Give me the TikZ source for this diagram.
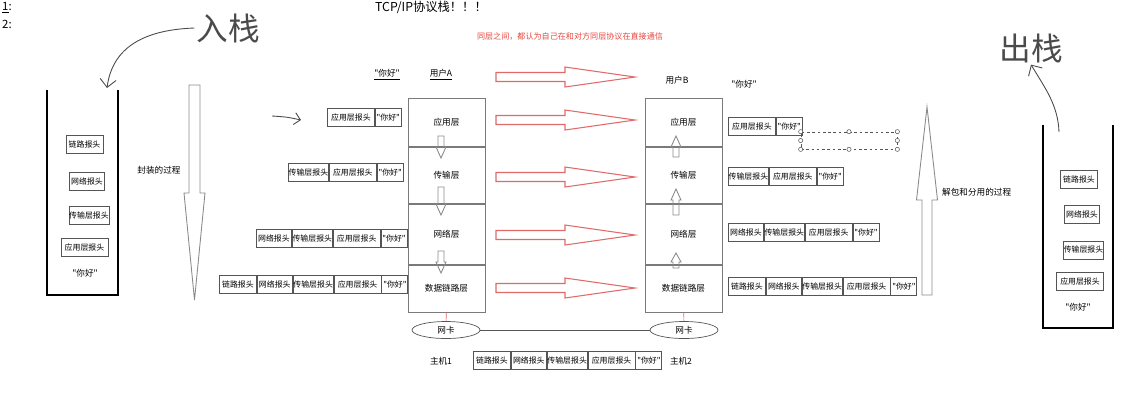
\documentclass[tikz,border=0pt]{standalone}
\usepackage{fontspec}
\setmainfont{Noto Sans CJK SC}[Ligatures=TeXOff]
\usetikzlibrary{arrows.meta,positioning,shapes.geometric}
\definecolor{peerred}{HTML}{E06A6A}
\definecolor{redtext}{HTML}{E5463F}
\definecolor{boxgray}{HTML}{555555}
\definecolor{stackgray}{HTML}{7A7A7A}
\definecolor{arrowgray}{HTML}{8A8A8A}
\definecolor{ink}{HTML}{4A4A4A}
\tikzset{
  hdr/.style={
    draw=boxgray,
    line width=0.5pt,
    minimum height=0.36cm,
    inner xsep=0pt,
    inner ysep=0.5pt,
    anchor=west,
    font=\fontsize{4.5}{5}\selectfont
  },
  lk/.style={hdr,minimum width=0.74cm},
  nw/.style={hdr,minimum width=0.70cm},
  tr/.style={hdr,minimum width=0.80cm},
  ap/.style={hdr,minimum width=0.94cm},
  ny/.style={hdr,minimum width=0.52cm},
  layer/.style={
    draw=stackgray,
    line width=0.5pt,
    minimum width=1.54cm,
    inner sep=0pt,
    font=\fontsize{4.9}{5}\selectfont
  },
  lbl/.style={inner sep=0.5pt,font=\fontsize{4.9}{5}\selectfont},
  nic/.style={
    ellipse,
    draw=boxgray,
    minimum width=1.36cm,
    minimum height=0.34cm,
    inner sep=0pt,
    font=\fontsize{4.9}{5}\selectfont
  },
  peer/.style={draw=peerred,line width=0.6pt},
  hollow/.style={draw=arrowgray,line width=0.5pt},
  wall/.style={draw=black,line width=1.3pt},
  hand/.style={draw=ink,line width=0.5pt},
  handtext/.style={text=ink,inner sep=1pt,font=\fontsize{18}{18}\selectfont}
}
% x, tail, head base, tip, shaft half width, head half width
\newcommand{\hollowv}[6]{%
  \draw[hollow] (#1-#5,#2) -- (#1+#5,#2) -- (#1+#5,#3) -- (#1+#6,#3) -- (#1,#4)
    -- (#1-#6,#3) -- (#1-#5,#3) -- cycle;}
% y, tail, head base, tip, shaft half width, head half width
\newcommand{\hollowh}[6]{%
  \draw[peer] (#2,#1-#5) -- (#3,#1-#5) -- (#3,#1-#6) -- (#4,#1) -- (#3,#1+#6)
    -- (#3,#1+#5) -- (#2,#1+#5) -- cycle;}

\begin{document}
\begin{tikzpicture}[x=0.02cm,y=-0.02cm]
\useasboundingbox (0,0) rectangle (1145,403);

% notes and titles
\node[inner sep=0.5pt,anchor=west,font=\fontsize{6.5}{7}\selectfont] (n1) at (1,8) {\underline{1}:};
\node[inner sep=0.5pt,anchor=west,font=\fontsize{6.5}{7}\selectfont] (n2) at (1,24) {2:};
\node[font=\fontsize{7}{8}\selectfont] (title) at (431,7) {TCP/IP协议栈！！！};
\node[inner sep=0.5pt,text=redtext,font=\fontsize{4.6}{5}\selectfont] (note) at (570,37) {同层之间，都认为自己在和对方同层协议在直接通信};

% host A
\node[layer,minimum height=0.96cm,anchor=north] (appA) at (446.5,98) {应用层};
\node[layer,minimum height=1.12cm,below=0pt of appA] (transA) {传输层};
\node[layer,minimum height=1.20cm,below=0pt of transA] (netA) {网络层};
\node[layer,minimum height=0.94cm,below=0pt of netA] (linkA) {数据链路层};
\node[lbl] (sayA) at (387,75) {\underline{"你好"}};
\node[lbl] (userA) at (441,75) {\underline{用户A}};

% host B
\node[layer,minimum height=0.96cm,anchor=north] (appB) at (683.5,98) {应用层};
\node[layer,minimum height=1.12cm,below=0pt of appB] (transB) {传输层};
\node[layer,minimum height=1.20cm,below=0pt of transB] (netB) {网络层};
\node[layer,minimum height=0.94cm,below=0pt of netB] (linkB) {数据链路层};
\node[lbl] (userB) at (677,80) {用户B};
\node[lbl] (sayB) at (744,84) {"你好"};

% down / up inside the stacks
\hollowv{441}{136}{147}{158}{3}{5}
\hollowv{441}{187}{204}{215}{3}{5}
\hollowv{441}{251}{262}{273}{3}{5}
\hollowv{676}{157}{147}{136}{3}{5}
\hollowv{676}{215}{200}{189}{3}{5}
\hollowv{676}{268}{262}{253}{3}{5}

% peer arrows
\foreach \y in {77,120,177,235,288}
  \hollowh{\y}{496}{565}{635}{4.5}{10};

% network cards
\node[nic] (nicA) at (446,330) {网卡};
\node[nic] (nicB) at (684,330) {网卡};
\draw[draw=boxgray] (nicA) -- (nicB);
\draw[draw=peerred] (linkA) -- (nicA);
\draw[draw=peerred] (linkB) -- (nicB);
\node[lbl] (host1) at (441,361) {主机1};
\node[lbl] (host2) at (681,361) {主机2};

% frame on the wire
\node[lk] (w1) at (473,360.5) {链路报头};
\node[nw,right=0pt of w1] (w2) {网络报头};
\node[tr,right=0pt of w2] (w3) {传输层报头};
\node[ap,right=0pt of w3] (w4) {应用层报头};
\node[ny,right=0pt of w4] (w5) {"你好"};

% sender side headers
\node[ap] (sa1) at (327,117.5) {应用层报头};
\node[ny,right=0pt of sa1] (sa2) {"你好"};
\node[tr] (sb1) at (288,172.5) {传输层报头};
\node[ap,right=0pt of sb1] (sb2) {应用层报头};
\node[ny,right=0pt of sb2] (sb3) {"你好"};
\node[nw] (sc1) at (256,238.5) {网络报头};
\node[tr,right=0pt of sc1] (sc2) {传输层报头};
\node[ap,right=0pt of sc2] (sc3) {应用层报头};
\node[ny,right=0pt of sc3] (sc4) {"你好"};
\node[lk] (sd1) at (219,284.5) {链路报头};
\node[nw,right=0pt of sd1] (sd2) {网络报头};
\node[tr,right=0pt of sd2] (sd3) {传输层报头};
\node[ap,right=0pt of sd3] (sd4) {应用层报头};
\node[ny,right=0pt of sd4] (sd5) {"你好"};

% receiver side headers
\node[ap] (ra1) at (728,126) {应用层报头};
\node[ny,right=0pt of ra1] (ra2) {"你好"};
\node[tr] (rb1) at (728,176.5) {传输层报头};
\node[ap,right=0pt of rb1] (rb2) {应用层报头};
\node[ny,right=0pt of rb2] (rb3) {"你好"};
\node[nw] (rc1) at (728,232.5) {网络报头};
\node[tr,right=0pt of rc1] (rc2) {传输层报头};
\node[ap,right=0pt of rc2] (rc3) {应用层报头};
\node[ny,right=0pt of rc3] (rc4) {"你好"};
\node[lk] (rd1) at (728,286.5) {链路报头};
\node[nw,right=0pt of rd1] (rd2) {网络报头};
\node[tr,right=0pt of rd2] (rd3) {传输层报头};
\node[ap,right=0pt of rd3] (rd4) {应用层报头};
\node[ny,right=0pt of rd4] (rd5) {"你好"};

% selection frame
\node[draw=boxgray,dash pattern=on 1.5pt off 1.5pt,line width=0.4pt,
  minimum width=1.92cm,minimum height=0.34cm,inner sep=0pt] (sel) at (849,140.5) {};
\foreach \a in {north west,north,north east,east,south east,south,south west,west}
  \draw[draw=boxgray,fill=white,line width=0.3pt] (sel.\a) circle (1.2pt);

% big process arrows
\hollowv{194.5}{85}{193}{300}{5.5}{10.5}
\hollowv{927}{295}{200}{107}{5}{10.5}
\node[lbl] (encap) at (159,170) {封装的过程};
\node[lbl,anchor=west] (decap) at (941,192) {解包和分用的过程};

% push stack
\draw[wall] (47,90) -- (47,295) -- (118,295) -- (118,90);
\node[lk,anchor=center] (pu1) at (84.5,144) {链路报头};
\node[nw,anchor=center] (pu2) at (87,181) {网络报头};
\node[tr,anchor=center] (pu3) at (89,215.5) {传输层报头};
\node[ap,anchor=center] (pu4) at (84.5,247.5) {应用层报头};
\node[lbl] (pu5) at (85,273) {"你好"};

% pop stack
\draw[wall] (1043,125) -- (1043,328) -- (1113,328) -- (1113,125);
\node[lk,anchor=center] (po1) at (1079,179) {链路报头};
\node[nw,anchor=center] (po2) at (1082,214.5) {网络报头};
\node[tr,anchor=center] (po3) at (1083.5,250) {传输层报头};
\node[ap,anchor=center] (po4) at (1080,281) {应用层报头};
\node[lbl] (po5) at (1078,307) {"你好"};

% handwriting
\node[handtext] (push) at (228,28) {入栈};
\coordinate (pushTip) at (107,88);
\draw[hand,-{Straight Barb[length=1.6mm]}] (push.west) .. controls (140,30) and (112,50) .. (pushTip);
\node[handtext] (pop) at (1031,48) {出栈};
\coordinate (popFoot) at (1059,132);
\draw[hand,-{Straight Barb[length=1.6mm]}] (popFoot) .. controls (1058,105) and (1045,88) .. (pop.south);
\coordinate (cue) at (272,116);
\coordinate (cueTip) at (301,120);
\draw[hand,-{Straight Barb[length=1.2mm]}] (cue) .. controls (287,117) .. (cueTip);
\end{tikzpicture}
\end{document}
